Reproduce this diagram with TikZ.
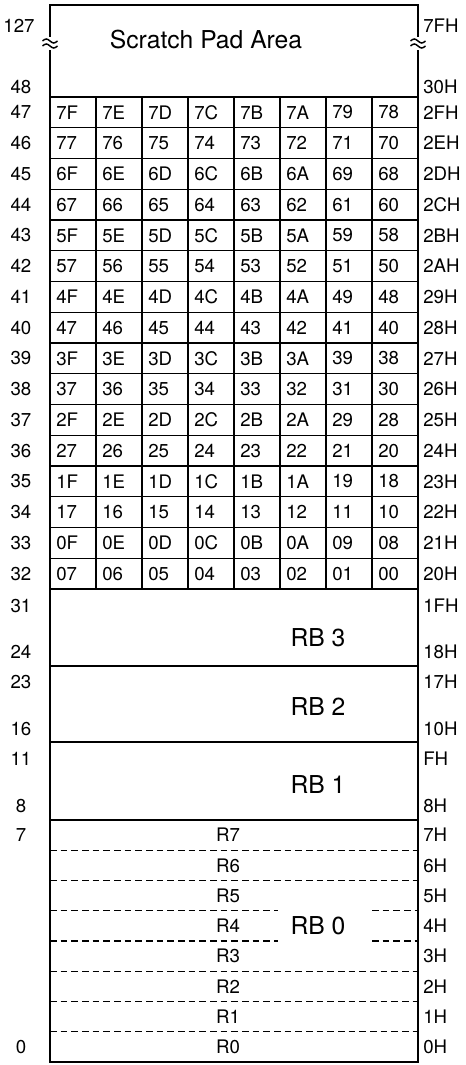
\documentclass[tikz,border=0pt]{standalone}
\usepackage{fontspec}
\setmainfont{TeX Gyre Heros}
\usepackage{tikz}

\begin{document}
\begin{tikzpicture}[x=0.75pt, y=0.75pt,
    outer/.style={line width=1.9pt},
    band/.style={line width=1.5pt},
    grid/.style={line width=1.1pt},
    brk/.style={line width=1.1pt},
    regdash/.style={line width=1pt, dash pattern=on 5pt off 3pt},
    lbl/.style={inner sep=0pt, font=\fontsize{14}{16}\selectfont},
    hexlbl/.style={lbl, anchor=west},
    cell/.style={lbl, anchor=west},
    big/.style={inner sep=0pt, font=\fontsize{18.5}{22}\selectfont}]
\useasboundingbox (0,0) rectangle (465,1065);

% break marks on the scratch pad edges
\node[inner sep=0pt, minimum height=9.75pt, minimum width=1pt] (brkL) at (50,1021.5) {};
\node[inner sep=0pt, minimum height=9.75pt, minimum width=1pt] (brkR) at (418,1021.5) {};
\foreach \bx in {50,418}
    \foreach \by in {1024,1019}
        \draw[brk] (\bx-7.5,\by) sin (\bx-3.75,\by+2) cos (\bx,\by) sin (\bx+3.75,\by-2) cos (\bx+7.5,\by);

% outer frame
\draw[outer] (brkL.north) -- (50,1060) -- (418,1060) -- (brkR.north);
\draw[outer] (brkL.south) -- (50,3) -- (418,3) -- (brkR.south);

% Scratch pad: 30H..7FH
\node[big] (spad) at (206,1025) {Scratch Pad Area};
\node[lbl] (d127) at (19,1039) {127};
\node[lbl] (d48) at (21,978) {48};
\node[hexlbl] (h7F) at (423,1039) {7FH};
\node[hexlbl] (h30) at (423,978) {30H};

% bit addressable area: 20H..2FH
\draw[band] (50,968) -- (418,968);
\draw[band] (50,476) -- (418,476);
\foreach \k in {1,...,15}
    \draw[grid] (50,{968-30.75*\k}) -- (418,{968-30.75*\k});
\foreach \j in {1,...,7}
    \draw[grid] ({50+46*\j},968) -- ({50+46*\j},476);

\foreach \r in {0,...,15} {
    \pgfmathsetmacro{\yc}{968-30.75*(\r+0.5)}
    \pgfmathtruncatemacro{\dec}{47-\r}
    \pgfmathparse{Hex(47-\r)}\let\hx\pgfmathresult
    \node[lbl] (d\dec) at (21,\yc) {\dec};
    \node[hexlbl] (h\dec) at (423,\yc) {\hx H};
    \foreach \c in {0,...,7} {
        \pgfmathtruncatemacro{\v}{(15-\r)*8+7-\c}
        \pgfmathparse{Hex(\v)}\let\hv\pgfmathresult
        \ifnum\v<16 \edef\hv{0\hv}\fi
        \node[cell] (b\v) at ({50+46*\c+6},\yc) {\hv};
    }
}

% register banks
\draw[grid] (50,399) -- (418,399);
\draw[grid] (50,323) -- (418,323);
\draw[grid] (50,245) -- (418,245);

\node[big] (rb3) at (318,427) {RB 3};
\node[lbl] (d31) at (21,459) {31};
\node[lbl] (d24) at (21,413) {24};
\node[hexlbl] (h1F) at (423,459) {1FH};
\node[hexlbl] (h18) at (423,413) {18H};

\node[big] (rb2) at (318,358) {RB 2};
\node[lbl] (d23) at (21,383) {23};
\node[lbl] (d16) at (21,336) {16};
\node[hexlbl] (h17) at (423,383) {17H};
\node[hexlbl] (h10) at (423,336) {10H};

\node[big] (rb1) at (318,280) {RB 1};
\node[lbl] (d11) at (21,306) {11};
\node[lbl] (d8) at (21,259) {8};
\node[hexlbl] (h0F) at (423,306) {FH};
\node[hexlbl] (h08) at (423,259) {8H};

% RB 0: R0..R7
\node[big] (rb0) at (318,139) {RB 0};
\foreach \k in {1,2,5,6,7}
    \draw[regdash] (50,{245-30.25*\k}) -- (418,{245-30.25*\k});
\foreach \k in {3,4} {
    \draw[regdash] (50,{245-30.25*\k}) -- (278,{245-30.25*\k});
    \draw[regdash] (372,{245-30.25*\k}) -- (418,{245-30.25*\k});
}
\foreach \n in {0,...,7} {
    \pgfmathsetmacro{\yc}{3+30.25*(\n+0.5)}
    \node[lbl] (r\n) at (228,\yc) {R\n};
    \node[hexlbl] (hr\n) at (423,\yc) {\n H};
}
\node[lbl] (d7) at (21,{3+30.25*7.5}) {7};
\node[lbl] (d0) at (21,{3+30.25*0.5}) {0};
\end{tikzpicture}
\end{document}
